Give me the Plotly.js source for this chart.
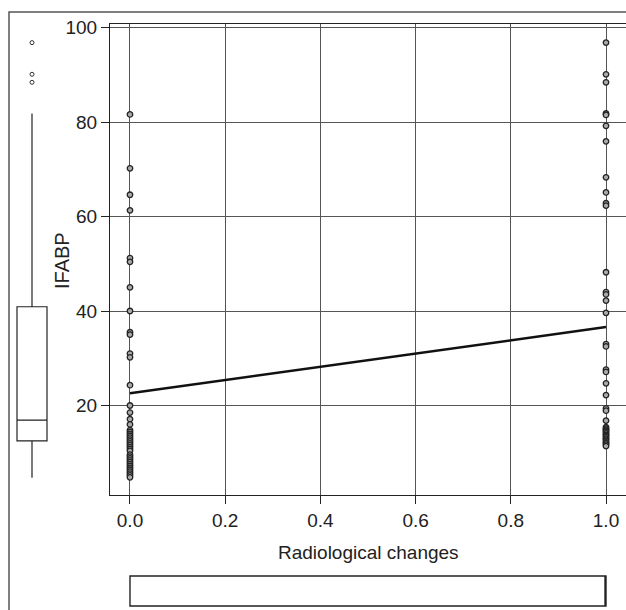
<!DOCTYPE html>
<html><head><meta charset="utf-8">
<script src="https://cdn.plot.ly/plotly-3.0.1.min.js"></script>
<style>html,body{margin:0;padding:0;background:#fff}#chart{width:626px;height:610px}</style>
</head><body><div id="chart"></div>
<script>
const W = 626, H = 610;

// IFABP values, radiological changes = 0
const ifabpNoChange = [81.6, 70.2, 64.6, 61.3, 51.2, 50.4, 45.0, 40.0, 35.5, 35.0, 31.0, 30.2,
  24.3, 20.0, 18.5, 17.1, 16.0,
  14.8, 14.4, 14.0, 13.6, 13.2, 12.8, 12.4, 12.0, 11.6, 11.2, 10.8, 10.4,
  9.6, 9.2, 8.8, 8.4, 8.0, 7.6, 7.2, 6.8, 6.4, 6.0, 5.6, 5.2, 4.8];
// IFABP values, radiological changes = 1
const ifabpChange = [96.8, 90.1, 88.4, 81.8, 81.5, 79.2, 75.9, 68.3, 65.1, 62.8, 62.3,
  48.2, 44.0, 43.5, 42.2, 39.6, 33.0, 32.5, 27.6, 27.1, 24.7, 22.2, 19.4, 18.9, 16.8,
  15.4, 15.1, 14.9, 14.6, 14.4, 14.1, 13.8, 13.6, 13.3, 13.0, 12.8, 12.5, 12.2, 12.0, 11.7, 11.4];

// fitted regression line
const fitX = [0, 1];
const fitY = [22.6, 36.6];

// marginal box plot of IFABP
const boxQ1 = [12.5], boxMedian = [16.9], boxQ3 = [40.9], boxLower = [4.7], boxUpper = [81.8];
const boxOutliers = [96.8, 90.1, 88.4];

// marginal box plot of radiological changes
const xBoxQ1 = [0], xBoxMedian = [1], xBoxQ3 = [1], xBoxLower = [0], xBoxUpper = [1];

const xTicks = [0, 0.2, 0.4, 0.6, 0.8, 1.0];
const xTickLabels = ['0.0', '0.2', '0.4', '0.6', '0.8', '1.0'];
const yTicks = [20, 40, 60, 80, 100];
const yTickLabels = ['20', '40', '60', '80', '100'];

const px = v => v / W;
const py = v => 1 - v / H;
const FONT = 'Liberation Sans, Arial, Helvetica, sans-serif';
const INK = '#222';
const X_RANGE = [-0.042, 1.042];
const Y_RANGE = [1.06, 100.74];

const traces = [
  {
    type: 'scatter', mode: 'markers', xaxis: 'x', yaxis: 'y',
    x: ifabpNoChange.map(() => 0).concat(ifabpChange.map(() => 1)),
    y: ifabpNoChange.concat(ifabpChange),
    marker: {symbol: 'circle', size: 5.5, color: '#aaa', line: {width: 1.3, color: '#222'}},
    hoverinfo: 'skip'
  },
  {
    type: 'scatter', mode: 'lines', xaxis: 'x', yaxis: 'y',
    x: fitX, y: fitY, line: {color: '#111', width: 2.5}, hoverinfo: 'skip'
  },
  {
    type: 'box', xaxis: 'x2', yaxis: 'y2', x: [0],
    q1: boxQ1, median: boxMedian, q3: boxQ3, lowerfence: boxLower, upperfence: boxUpper,
    width: 1, whiskerwidth: 0, boxpoints: false,
    fillcolor: '#fff', line: {color: INK, width: 1.2}, hoverinfo: 'skip'
  },
  {
    type: 'scatter', mode: 'markers', xaxis: 'x2', yaxis: 'y2',
    x: boxOutliers.map(() => 0), y: boxOutliers,
    marker: {symbol: 'circle-open', size: 4, color: '#333', line: {width: 1, color: '#333'}},
    hoverinfo: 'skip'
  },
  {
    type: 'box', orientation: 'h', xaxis: 'x3', yaxis: 'y3', y: [0],
    q1: xBoxQ1, median: xBoxMedian, q3: xBoxQ3, lowerfence: xBoxLower, upperfence: xBoxUpper,
    width: 1, whiskerwidth: 0, boxpoints: false,
    fillcolor: '#fff', line: {color: INK, width: 1.4}, hoverinfo: 'skip'
  }
];

const axisCommon = {
  ticks: 'outside', ticklen: 8, tickwidth: 1, tickcolor: INK,
  showgrid: true, gridcolor: '#555', gridwidth: 1,
  showline: true, linecolor: INK, linewidth: 1,
  zeroline: false, tickfont: {family: FONT, size: 19, color: INK}
};

const layout = {
  width: W, height: H,
  margin: {l: 0, r: 0, t: 0, b: 0, pad: 0},
  paper_bgcolor: '#fff', plot_bgcolor: '#fff',
  showlegend: false,
  font: {family: FONT, color: INK},
  xaxis: Object.assign({}, axisCommon, {
    domain: [px(110), px(626)], range: X_RANGE, anchor: 'y', mirror: true,
    tickmode: 'array', tickvals: xTicks, ticktext: xTickLabels
  }),
  yaxis: Object.assign({}, axisCommon, {
    domain: [py(495), py(24)], range: Y_RANGE, anchor: 'x', mirror: false,
    tickmode: 'array', tickvals: yTicks, ticktext: yTickLabels
  }),
  xaxis2: {domain: [px(15.5), px(48.5)], range: [-0.55, 0.55], anchor: 'y2', visible: false, showgrid: false, zeroline: false},
  yaxis2: {domain: [py(495), py(24)], range: Y_RANGE, anchor: 'x2', visible: false, showgrid: false, zeroline: false},
  xaxis3: {domain: [px(110), px(626)], range: X_RANGE, anchor: 'y3', visible: false, showgrid: false, zeroline: false},
  yaxis3: {domain: [py(607.5), py(574.5)], range: [-0.55, 0.55], anchor: 'x3', visible: false, showgrid: false, zeroline: false},
  annotations: [
    {text: 'IFABP', xref: 'paper', yref: 'paper', x: px(62), y: py(261), textangle: -90,
     showarrow: false, xanchor: 'center', yanchor: 'middle', font: {family: FONT, size: 20, color: INK}},
    {text: 'Radiological changes', xref: 'paper', yref: 'paper', x: px(368), y: py(552),
     showarrow: false, xanchor: 'center', yanchor: 'middle', font: {family: FONT, size: 19, color: INK}}
  ],
  shapes: [
    {type: 'rect', xref: 'paper', yref: 'paper', x0: px(9), x1: 1.2, y0: -0.2, y1: py(12),
     line: {color: '#555', width: 1.5}, fillcolor: 'rgba(0,0,0,0)', layer: 'above'}
  ]
};

Plotly.newPlot('chart', traces, layout, {staticPlot: true, displayModeBar: false});
</script>
</body></html>
